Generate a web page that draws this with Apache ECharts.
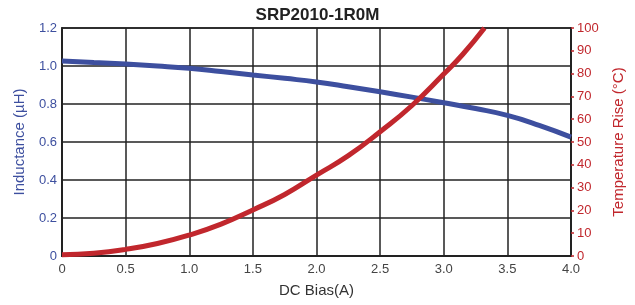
<!DOCTYPE html>
<html><head><meta charset="utf-8">
<script src="https://cdn.jsdelivr.net/npm/echarts@6/dist/echarts.min.js"></script>
<style>html,body{margin:0;padding:0;background:#fff}#c{width:635px;height:305px}</style>
</head><body><div id="c"></div>
<script>
const title = "SRP2010-1R0M";
const xTicks = [0, 0.5, 1.0, 1.5, 2.0, 2.5, 3.0, 3.5, 4.0];
const inductanceX = [0, 0.25, 0.5, 0.75, 1.0, 1.25, 1.5, 1.75, 2.0, 2.25, 2.5, 2.75, 3.0, 3.25, 3.5, 3.75, 4.0];
const inductanceY = [1.026, 1.018, 1.01, 1.0, 0.988, 0.971, 0.953, 0.935, 0.916, 0.891, 0.864, 0.836, 0.807, 0.776, 0.74, 0.688, 0.626];
const tempX = [0, 0.25, 0.5, 0.75, 1.0, 1.25, 1.5, 1.75, 2.0, 2.25, 2.5, 2.75, 3.0, 3.15, 3.32];
const tempY = [0.5, 1.2, 2.9, 5.5, 9.2, 14, 20.2, 27, 35.5, 44, 54.5, 66, 79.8, 88.5, 100];
const blue = "#3d4f9f", red = "#c1272d";
const font = "'Liberation Sans Narrow', 'Liberation Sans', Arial, sans-serif";
const chart = echarts.init(document.getElementById('c'));
chart.setOption({
  animation: false,
  title: { text: title, left: 'center', top: 2, textStyle: { fontFamily: font, fontSize: 17, fontWeight: 'bold', color: '#222' } },
  grid: { left: 62, right: 64, top: 28, bottom: 49, show: true, borderColor: '#222', borderWidth: 1.5 },
  xAxis: {
    type: 'value', min: 0, max: 4, interval: 0.5,
    name: 'DC Bias(A)', nameLocation: 'middle', nameGap: 27,
    nameTextStyle: { fontFamily: font, fontSize: 15, color: '#333' },
    axisLine: { lineStyle: { color: '#222', width: 2 } },
    axisTick: { show: false },
    axisLabel: { fontFamily: font, fontSize: 13, color: '#444', margin: 7, formatter: v => v === 0 ? '0' : v.toFixed(1) },
    splitLine: { lineStyle: { color: '#222', width: 1.5 } }
  },
  yAxis: [{
    type: 'value', min: 0, max: 1.2, interval: 0.2, position: 'left',
    name: 'Inductance (µH)', nameLocation: 'middle', nameGap: 35, nameRotate: 90,
    nameTextStyle: { fontFamily: font, fontSize: 15, color: blue },
    axisLine: { show: true, lineStyle: { color: '#222', width: 2 } },
    axisTick: { show: false },
    axisLabel: { fontFamily: font, fontSize: 13, color: blue, margin: 5, formatter: v => v === 0 ? '0' : v.toFixed(1) },
    splitLine: { lineStyle: { color: '#222', width: 1.5 } }
  }, {
    type: 'value', min: 0, max: 100, interval: 10, position: 'right',
    name: 'Temperature Rise (°C)', nameLocation: 'middle', nameGap: 40, nameRotate: 90,
    nameTextStyle: { fontFamily: font, fontSize: 15, color: red },
    axisLine: { show: true, lineStyle: { color: '#222', width: 2 } },
    axisTick: { show: true, length: 3, lineStyle: { color: red, width: 1.5 } },
    axisLabel: { fontFamily: font, fontSize: 13, color: red, margin: 6 },
    splitLine: { show: false }
  }],
  series: [{
    type: 'line', yAxisIndex: 0, smooth: true, showSymbol: false,
    data: inductanceX.map((x, i) => [x, inductanceY[i]]),
    lineStyle: { color: blue, width: 5 }
  }, {
    type: 'line', yAxisIndex: 1, smooth: true, showSymbol: false,
    data: tempX.map((x, i) => [x, tempY[i]]),
    lineStyle: { color: red, width: 5 }
  }]
});
</script></body></html>
